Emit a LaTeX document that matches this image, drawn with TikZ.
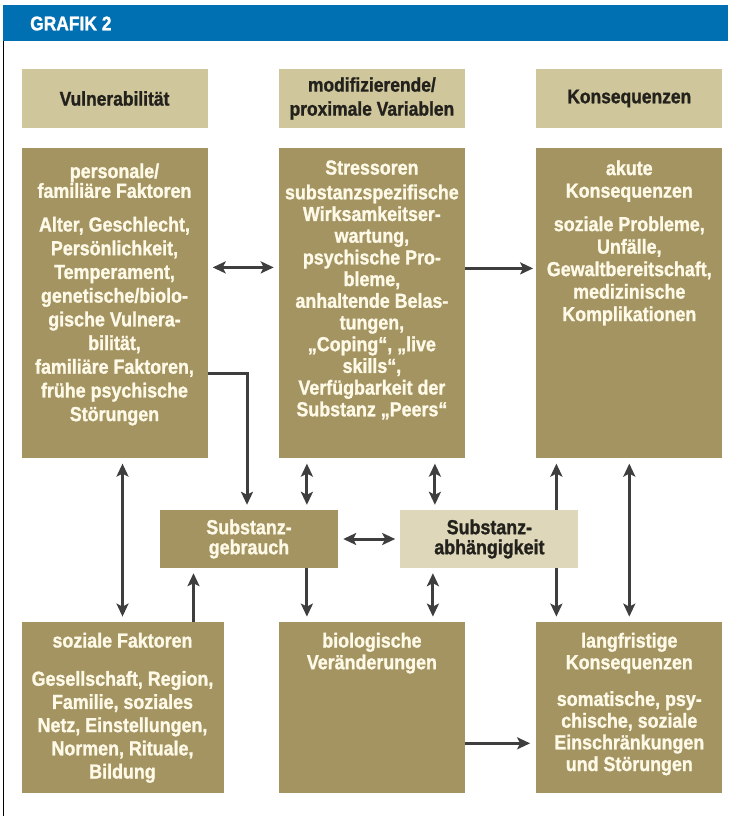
\documentclass[tikz,border=0pt]{standalone}
\usepackage{fontspec}
\setmainfont{Liberation Sans}[FakeStretch=0.88, FakeBold=1.2]
\usetikzlibrary{positioning, calc, arrows.meta}
\definecolor{grafblue}{RGB}{0,112,178}
\definecolor{boxolive}{RGB}{163,148,98}
\definecolor{boxlight}{RGB}{207,198,156}
\definecolor{boxpale}{RGB}{222,215,186}
\definecolor{arrgray}{RGB}{62,62,62}
\definecolor{boxtext}{RGB}{255,250,232}
\definecolor{lbltext}{RGB}{35,33,28}
\tikzset{hdr/.style={fill=boxlight, minimum width=186pt, minimum height=59pt, inner sep=0pt, align=center, text=lbltext, font=\fontsize{19.8}{24}\selectfont\bfseries}}
\tikzset{bigbox/.style={fill=boxolive, minimum width=186pt, inner sep=0pt}}
\tikzset{midbox/.style={fill=boxolive, minimum width=178pt, minimum height=58pt, inner sep=0pt, align=center, text=boxtext, font=\fontsize{20.3}{20}\selectfont\bfseries}}
\tikzset{boxtxt/.style={anchor=north, inner sep=0pt, align=center, text=boxtext, font=\fontsize{20.3}{#1}\selectfont\bfseries}, boxtxt/.default=21.7}
\tikzset{arr/.style={draw=arrgray, line width=3pt, >={Stealth[length=13pt,width=12pt,inset=3pt]}, shorten >=5pt}}
\tikzset{arr2/.style={arr, shorten <=5pt}}
\begin{document}
\begin{tikzpicture}[x=1pt, y=-1pt]
	\useasboundingbox (0,0) rectangle (728,816);
	\fill[grafblue] (3,5) rectangle (728,41);
	\node[anchor=west, inner sep=0pt, text=white, font=\fontsize{19.8}{20}\selectfont\bfseries] (title) at (30,23.5) {GRAFIK 2};
	\draw[line width=1.3pt] (3.6,41) -- (3.6,816);

	\node[hdr] (vul) at (114.5,98.5) {Vulnerabilität};
	\node[hdr, right=71pt of vul] (mod) {modifizierende/\\proximale Variablen};
	\node[hdr, right=71pt of mod] (kon) {Konsequenzen};

	\node[bigbox, minimum height=310pt, below=20pt of vul] (pf) {};
	\node[bigbox, minimum height=310pt, below=20pt of mod] (st) {};
	\node[bigbox, minimum height=310pt, below=20pt of kon] (ak) {};

	\node[midbox] (sg) at (249,539) {Substanz-\\gebrauch};
	\node[midbox, fill=boxpale, text=lbltext, right=62pt of sg] (sa) {Substanz-\\abhängigkeit};

	\node[bigbox, minimum width=202pt, minimum height=171pt, below right=163pt and 0pt of pf.south west] (sf) {};
	\node[bigbox, minimum height=171pt, below=163pt of st] (bv) {};
	\node[bigbox, minimum height=171pt, below=163pt of ak] (lk) {};

	\node[boxtxt=23.7] (pft) at ([yshift=-15pt]pf.north) {personale/\\[-4pt]familiäre Faktoren\\[10pt]Alter, Geschlecht,\\Persönlichkeit,\\Temperament,\\genetische/biolo-\\gische Vulnera-\\bilität,\\familiäre Faktoren,\\frühe psychische\\Störungen};
	\node[boxtxt] (stt) at ([yshift=-12pt]st.north) {Stressoren\\[3pt]substanzspezifische\\Wirksamkeitser-\\wartung,\\psychische Pro-\\bleme,\\anhaltende Belas-\\tungen,\\„Coping“, „live\\skills“,\\Verfügbarkeit der\\Substanz „Peers“};
	\node[boxtxt=22.5] (akt) at ([yshift=-12pt]ak.north) {akute\\Konsequenzen\\[11pt]soziale Probleme,\\Unfälle,\\Gewaltbereitschaft,\\medizinische\\Komplikationen};
	\node[boxtxt=23.2] (sft) at ([yshift=-11pt]sf.north) {soziale Faktoren\\[15pt]Gesellschaft, Region,\\Familie, soziales\\Netz, Einstellungen,\\Normen, Rituale,\\Bildung};
	\node[boxtxt] (bvt) at ([yshift=-11pt]bv.north) {biologische\\Veränderungen};
	\node[boxtxt] (lkt) at ([yshift=-11pt]lk.north) {langfristige\\Konsequenzen\\[15pt]somatische, psy-\\chische, soziale\\Einschränkungen\\und Störungen};

	\draw[arr2, <->] ([yshift=36pt]pf.east) -- ([yshift=36pt]st.west);
	\draw[arr, ->, shorten >=3pt] ([yshift=35pt]st.east) -- ([yshift=35pt]ak.west);
	\draw[arr, ->] ([yshift=-70pt]pf.east) -| ([xshift=-2pt]sg.north);
	\draw[arr2, <->] (pf.south -| sf.north) -- (sf.north);
	\draw[arr, ->] ([xshift=71pt]sf.north) -- ([xshift=71pt]sf.north |- sg.south);
	\draw[arr2, <->] ([xshift=-65pt]st.south) -- ([xshift=-65pt]st.south |- sg.north);
	\draw[arr2, <->] ([xshift=63pt]st.south) -- ([xshift=63pt]st.south |- sa.north);
	\draw[arr, ->] ([xshift=67pt]sa.north) -- ([xshift=67pt]sa.north |- ak.south);
	\draw[arr2, <->] (ak.south) -- (lk.north);
	\draw[arr2, <->] (sg) -- (sa);
	\draw[arr, ->] ([xshift=-65pt]bv.north |- sg.south) -- ([xshift=-65pt]bv.north);
	\draw[arr2, <->] ([xshift=61pt]bv.north |- sa.south) -- ([xshift=61pt]bv.north);
	\draw[arr, ->] ([xshift=67pt]sa.south) -- ([xshift=67pt]sa.south |- lk.north);
	\draw[arr, ->, shorten >=6pt] ([yshift=-36pt]bv.east) -- ([yshift=-36pt]bv.east -| lk.west);
\end{tikzpicture}
\end{document}
